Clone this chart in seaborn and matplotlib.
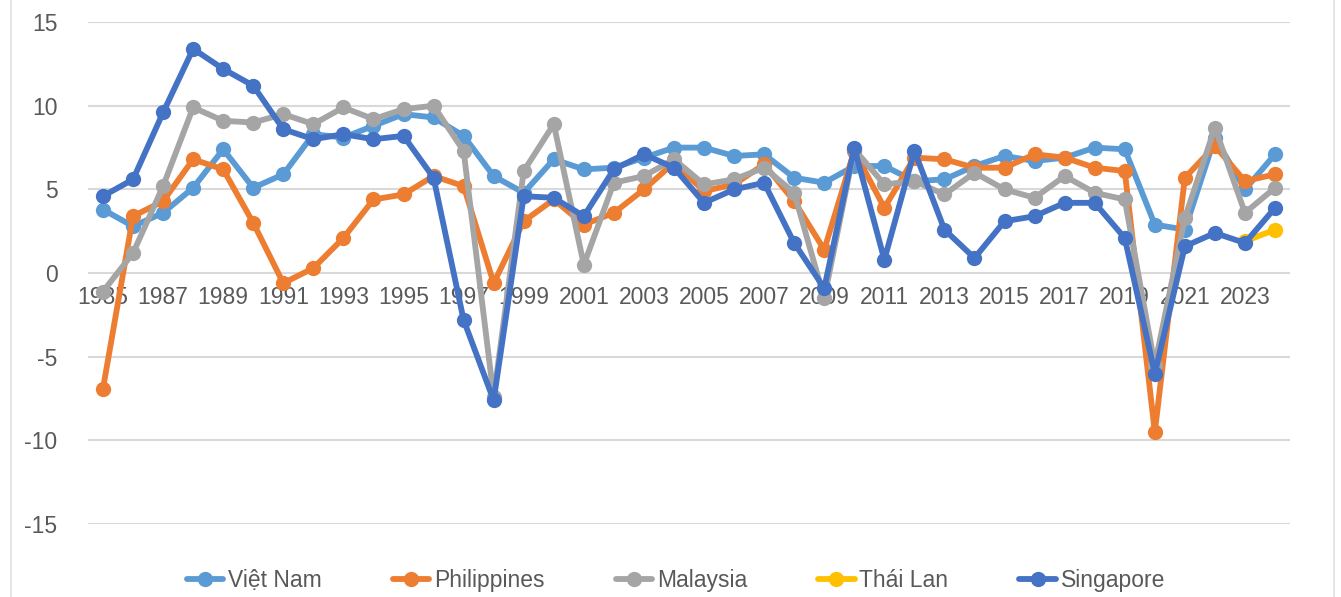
import numpy as np
import pandas as pd
import matplotlib
matplotlib.use("Agg")
import matplotlib.pyplot as plt
import seaborn as sns

# Years on the category axis
years = list(range(1985, 2025))

# GDP growth (%)
viet_nam = [3.8, 2.8, 3.6, 5.1, 7.4, 5.1, 5.9, 8.3, 8.1, 8.8,
            9.5, 9.3, 8.2, 5.8, 4.8, 6.8, 6.2, 6.3, 6.9, 7.5,
            7.5, 7.0, 7.1, 5.7, 5.4, 6.4, 6.4, 5.5, 5.6, 6.4,
            7.0, 6.7, 6.9, 7.5, 7.4, 2.9, 2.6, 8.1, 5.0, 7.1]
philippines = [-6.9, 3.4, 4.3, 6.8, 6.2, 3.0, -0.6, 0.3, 2.1, 4.4,
               4.7, 5.8, 5.2, -0.6, 3.1, 4.4, 2.9, 3.6, 5.0, 6.6,
               4.9, 5.3, 6.5, 4.3, 1.4, 7.3, 3.9, 6.9, 6.8, 6.3,
               6.3, 7.1, 6.9, 6.3, 6.1, -9.5, 5.7, 7.6, 5.5, 5.9]
malaysia = [-1.1, 1.2, 5.2, 9.9, 9.1, 9.0, 9.5, 8.9, 9.9, 9.2,
            9.8, 10.0, 7.3, -7.4, 6.1, 8.9, 0.5, 5.4, 5.8, 6.8,
            5.3, 5.6, 6.3, 4.8, -1.5, 7.4, 5.3, 5.5, 4.7, 6.0,
            5.0, 4.5, 5.8, 4.8, 4.4, -5.5, 3.3, 8.7, 3.6, 5.1]
thai_lan = [np.nan] * 38 + [1.9, 2.6]
singapore = [4.6, 5.6, 9.6, 13.4, 12.2, 11.2, 8.6, 8.0, 8.3, 8.0,
             8.2, 5.7, -2.8, -7.6, 4.6, 4.5, 3.4, 6.2, 7.1, 6.3,
             4.2, 5.0, 5.4, 1.8, -0.9, 7.5, 0.8, 7.3, 2.6, 0.9,
             3.1, 3.4, 4.2, 4.2, 2.1, -6.0, 1.6, 2.4, 1.8, 3.9]

countries = ["Việt Nam", "Philippines", "Malaysia", "Thái Lan", "Singapore"]
colors = ["#5B9BD5", "#ED7D31", "#A5A5A5", "#FFC000", "#4472C4"]

# long format for seaborn
frames = []
for name, vals in zip(countries, [viet_nam, philippines, malaysia, thai_lan, singapore]):
    frames.append(pd.DataFrame({"Year": years, "Growth": vals, "Country": name}))
df = pd.concat(frames, ignore_index=True).dropna()

sns.set_style("white")
plt.rcParams["font.family"] = ["Liberation Sans", "DejaVu Sans"]
plt.rcParams["axes.unicode_minus"] = False

fig = plt.figure(figsize=(13.41, 5.97), dpi=100)
ax = fig.add_axes([0.0656, 0.122, 0.8964, 0.841])

sns.lineplot(data=df, x="Year", y="Growth", hue="Country", hue_order=countries,
             palette=colors, marker="o", markersize=11, markeredgewidth=0,
             linewidth=4.2, ax=ax)

ax.set_xlim(1984.5, 2024.5)
ax.set_ylim(-15, 15)
ax.set_yticks(range(-15, 16, 5))
ax.set_xticks(years[::2])
ax.set_xlabel("")
ax.set_ylabel("")
ax.yaxis.grid(True, color="#D9D9D9", linewidth=1.5)
ax.set_axisbelow(True)

# x labels sit along the zero line, like Excel
ax.spines["bottom"].set_position(("data", 0))
for side in ["top", "right", "left", "bottom"]:
    ax.spines[side].set_visible(False)
ax.tick_params(axis="both", length=0, labelsize=16.5, labelcolor="#595959")
ax.tick_params(axis="x", pad=9)
ax.tick_params(axis="y", pad=22)

handles, labels = ax.get_legend_handles_labels()
ax.get_legend().remove()
fig.legend(handles, labels, loc="center", bbox_to_anchor=(0.504, 0.027), ncol=5,
           frameon=False, fontsize=16.5, labelcolor="#595959", handlelength=1.6,
           columnspacing=3.1, handletextpad=0.2)

# light chart border
fig.add_artist(plt.Rectangle((0.008, -0.01), 0.987, 1.2, transform=fig.transFigure,
                             fill=False, edgecolor="#E0E0E0", linewidth=1.2))

fig.savefig("out.png", dpi=100)
